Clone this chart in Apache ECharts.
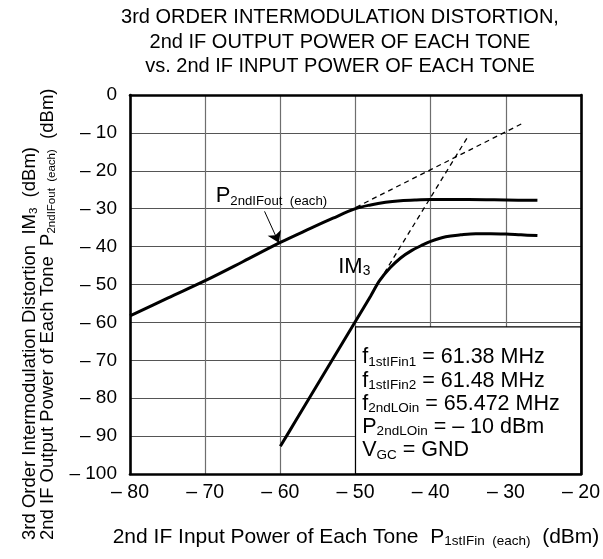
<!DOCTYPE html>
<html><head><meta charset="utf-8">
<script src="https://cdn.jsdelivr.net/npm/echarts@6/dist/echarts.min.js"></script>
<style>html,body{margin:0;padding:0;background:#fff}#c{width:603px;height:559px}</style>
</head><body><div id="c"></div>
<script>
// ---- data ----
const xTicks = [-80, -70, -60, -50, -40, -30, -20];
const xTickLabels = ['\u2013 80', '\u2013 70', '\u2013 60', '\u2013 50', '\u2013 40', '\u2013 30', '\u2013 20'];
const yTicks = [0, -10, -20, -30, -40, -50, -60, -70, -80, -90, -100];
const yTickLabels = ['0', '\u2013 10', '\u2013 20', '\u2013 30', '\u2013 40', '\u2013 50', '\u2013 60', '\u2013 70', '\u2013 80', '\u2013 90', '\u2013 100'];

const poutX = [-80, -75, -70, -65, -60, -56, -53, -50, -48, -46, -44, -42, -40, -35, -30, -25.8];
const poutY = [-58.3, -53.6, -49.0, -44.0, -38.9, -35.2, -32.5, -30.0, -29.0, -28.3, -27.9, -27.7, -27.6, -27.6, -27.7, -27.8];
const im3X = [-60, -58, -56, -54, -52, -50, -48, -46.8, -45.4, -44, -42.5, -41, -40, -38, -36, -34, -32, -30, -28, -25.8];
const im3Y = [-92.7, -86.1, -79.5, -72.9, -66.3, -59.7, -53.1, -49.0, -45.6, -43.0, -41.0, -39.5, -38.6, -37.4, -36.9, -36.6, -36.6, -36.7, -36.9, -37.1];
const poutExtX = [-51, -27.5];
const poutExtY = [-30.7, -7.2];
const im3ExtX = [-46.8, -34.9];
const im3ExtY = [-49.0, -10.5];
const boxCorners = [[-50, -61.2], [-20, -100]];
const arrowFrom = [-62.1, -30.7];
const arrowTo = [-60.2, -39.0];
const poutLabelAt = [-68.6, -26.6];
const im3LabelAt = [-52.3, -45.3];
const condLabelAt = [-49.1, -66.2];

const zip = (xs, ys) => xs.map((x, i) => [x, ys[i]]);
const FONT = '"Liberation Sans", Arial, Helvetica, sans-serif';

const chart = echarts.init(document.getElementById('c'));

const frameAxis = (pos, isX) => ({
  type: 'value', min: isX ? -80 : -100, max: isX ? -20 : 0, interval: 10,
  position: pos, z: 10,
  axisLine: { show: true, onZero: false, lineStyle: { color: '#000', width: 2.6 } },
  axisTick: { show: false }, axisLabel: { show: false }, splitLine: { show: false }
});

chart.setOption({
  animation: false,
  backgroundColor: '#fff',
  grid: { left: 130, right: 21, top: 95, bottom: 85, show: false },
  xAxis: [
    {
      type: 'value', min: -80, max: -20, interval: 10, position: 'bottom',
      axisLine: { show: false, onZero: false }, axisTick: { show: false },
      axisLabel: { fontSize: 19.5, color: '#000', fontFamily: FONT, margin: 9,
        formatter: v => xTickLabels[xTicks.indexOf(v)] },
      splitLine: { show: true, lineStyle: { color: '#6e6e6e', width: 1.2 } }
    },
    frameAxis('top', true), frameAxis('bottom', true)
  ],
  yAxis: [
    {
      type: 'value', min: -100, max: 0, interval: 10, position: 'left',
      axisLine: { show: false, onZero: false }, axisTick: { show: false },
      axisLabel: { fontSize: 19, color: '#000', fontFamily: FONT, margin: 13,
        formatter: v => yTickLabels[yTicks.indexOf(v)] },
      splitLine: { show: true, lineStyle: { color: '#555', width: 1.2 } }
    },
    frameAxis('left', false), frameAxis('right', false)
  ],
  series: [
    {
      type: 'line', name: 'Pout', data: zip(poutX, poutY), smooth: 0.35,
      symbol: 'none', lineStyle: { color: '#000', width: 3 },
      markLine: {
        silent: true, symbol: ['none', 'arrow'], symbolSize: 11,
        label: { show: false },
        lineStyle: { color: '#000', width: 1, type: 'solid' },
        data: [[{ coord: arrowFrom }, { coord: arrowTo }]]
      }
    },
    {
      type: 'line', name: 'IM3', data: zip(im3X, im3Y), smooth: 0.35,
      symbol: 'none', lineStyle: { color: '#000', width: 3 },
      markArea: {
        silent: true,
        itemStyle: { color: '#fff', borderColor: '#000', borderWidth: 1.2, opacity: 1 },
        label: { show: false },
        data: [[{ coord: boxCorners[0] }, { coord: boxCorners[1] }]]
      }
    },
    {
      type: 'line', name: 'PoutExt', data: zip(poutExtX, poutExtY),
      symbol: 'none', lineStyle: { color: '#000', width: 1.3, type: [5, 4] }
    },
    {
      type: 'line', name: 'IM3Ext', data: zip(im3ExtX, im3ExtY),
      symbol: 'none', lineStyle: { color: '#000', width: 1.3, type: [5, 4] }
    }
  ]
});

const px = p => chart.convertToPixel({ gridIndex: 0 }, p);
const M = (size, lh) => ({ fontSize: size, fontFamily: FONT, fill: '#000', lineHeight: lh });
const S = (size, lh) => ({ fontSize: size, fontFamily: FONT, fill: '#000', lineHeight: lh, verticalAlign: 'bottom' });

const pL = px(poutLabelAt), iL = px(im3LabelAt), cL = px(condLabelAt);

chart.setOption({
  graphic: [
    { type: 'text', x: 340, y: 5.5, z: 20, style: {
      text: '3rd ORDER INTERMODULATION DISTORTION,\n2nd IF OUTPUT POWER OF EACH TONE\nvs. 2nd IF INPUT POWER OF EACH TONE',
      fontSize: 20, fontFamily: FONT, fill: '#000', lineHeight: 24.5, align: 'center', verticalAlign: 'top' } },
    { type: 'text', x: 30, y: 540, rotation: Math.PI / 2, z: 20, style: {
      text: '{m|3rd Order Intermodulation Distortion  IM}{s|3}{m|  (dBm)}',
      align: 'left', verticalAlign: 'middle',
      rich: { m: M(18.5, 20), s: S(11.5, 19.5) } } },
    { type: 'text', x: 48, y: 540, rotation: Math.PI / 2, z: 20, style: {
      text: '{m|2nd IF Output Power of Each Tone  P}{s|2ndIFout  (each)}{m|  (dBm)}',
      align: 'left', verticalAlign: 'middle',
      rich: { m: M(18.5, 20), s: S(11.5, 19.5) } } },
    { type: 'text', x: 356, y: 537, z: 20, style: {
      text: '{m|2nd IF Input Power of Each Tone  P}{s|1stIFin  (each)}{m|  (dBm)}',
      align: 'center', verticalAlign: 'middle',
      rich: { m: M(21, 22), s: S(13.5, 21.5) } } },
    { type: 'text', x: pL[0], y: pL[1], z: 20, style: {
      text: '{m|P}{s|2ndIFout  (each)}',
      align: 'left', verticalAlign: 'middle',
      rich: { m: M(22, 24), s: S(13.2, 23.5) } } },
    { type: 'text', x: iL[0], y: iL[1], z: 20, style: {
      text: '{m|IM}{s|3}',
      align: 'left', verticalAlign: 'middle',
      rich: { m: M(22, 24), s: S(13.8, 23.5) } } },
    { type: 'text', x: cL[0], y: cL[1], z: 20, style: {
      text: '{s|f}{t|1stIFin1}{s| = 61.38 MHz}\n{s|f}{t|1stIFin2}{s| = 61.48 MHz}\n{s|f}{t|2ndLOin}{s| = 65.472 MHz}\n{s|P}{t|2ndLOin}{s| = \u2013 10 dBm}\n{s|V}{t|GC}{s| = GND}',
      align: 'left', verticalAlign: 'top',
      rich: { s: M(21.5, 23.2), t: S(13.5, 22.6) } } }
  ]
});
</script>
</body></html>
